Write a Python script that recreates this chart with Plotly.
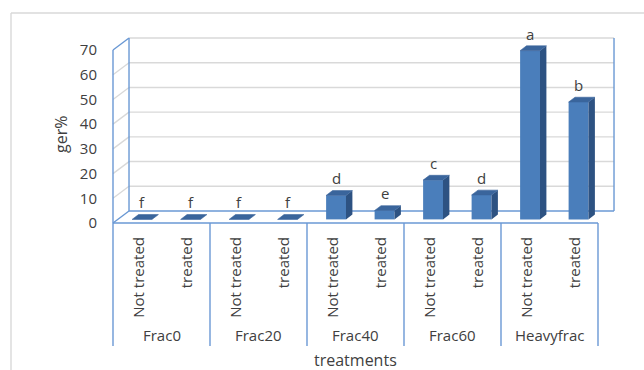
import plotly.graph_objects as go

# Germination data per fraction and treatment
groups = ["Frac0", "Frac20", "Frac40", "Frac60", "Heavyfrac"]
treatments = ["Not treated", "treated"]
ger_values = [0, 0, 0, 0, 9.7, 3.6, 15.9, 9.9, 68.3, 47.5]
letters = ["f", "f", "f", "f", "d", "e", "c", "d", "a", "b"]
y_ticks = [0, 10, 20, 30, 40, 50, 60, 70]

# oblique projection settings (x in category units, y in value units)
DX, DY = 0.33, 4.86          # full depth offset of the floor
F_DEP, B_DEP = 0.3, 0.7      # bar front/back position as fraction of depth
BAR_W = 0.41
LABEL_GAP = 6.9
Y_MAX = 70
Y_BOTTOM = -49.8

FRONT = "#4a7ebb"
TOP = "#3a659c"
SIDE = "#2d5282"
AXIS_BLUE = "#6a98d4"
GRID = "#d9d9d9"
TXT = "#404040"
FONT = "Open Sans"

n_cat = len(groups) * len(treatments)
centers = [i + 0.5 for i in range(n_cat)]

shapes = []


def seg(x0, y0, x1, y1, color, width=1.4):
    shapes.append(dict(type="line", xref="x", yref="y", x0=x0, y0=y0, x1=x1, y1=y1,
                       layer="below", line=dict(color=color, width=width)))


# back wall and side wall gridlines
for v in y_ticks[1:]:
    seg(DX, v + DY, DX + n_cat, v + DY, GRID)
    if v < Y_MAX:
        seg(0, v, DX, v + DY, GRID)

# walls, floor and category frame
seg(0, Y_BOTTOM, 0, Y_MAX, AXIS_BLUE)
seg(0, Y_MAX, DX, Y_MAX + DY, AXIS_BLUE)
seg(DX, DY, DX, Y_MAX + DY, AXIS_BLUE)
seg(DX + n_cat, DY, DX + n_cat, Y_MAX + DY, AXIS_BLUE)
seg(DX, DY, DX + n_cat, DY, AXIS_BLUE)
seg(0, 0, n_cat, 0, AXIS_BLUE)
seg(0, 0, DX, DY, AXIS_BLUE)
for g in range(1, len(groups) + 1):
    xg = g * len(treatments)
    seg(xg, 0, xg, Y_BOTTOM, AXIS_BLUE)

fig = go.Figure()

# bars: front faces
bar_x = [c + F_DEP * DX for c in centers]
fig.add_trace(go.Bar(x=bar_x, y=ger_values, base=[F_DEP * DY] * n_cat,
                     width=BAR_W, marker=dict(color=FRONT, line=dict(width=0)),
                     hoverinfo="skip", showlegend=False))

# bars: top and side faces
ddx = (B_DEP - F_DEP) * DX
ddy = (B_DEP - F_DEP) * DY
for bx, v in zip(bar_x, ger_values):
    xl, xr = bx - BAR_W / 2, bx + BAR_W / 2
    yb = F_DEP * DY
    yt = yb + v
    fig.add_trace(go.Scatter(
        x=[xr, xr, xr + ddx, xr + ddx, xr], y=[yb, yt, yt + ddy, yb + ddy, yb],
        fill="toself", fillcolor=SIDE, mode="lines", line=dict(width=0, color=SIDE),
        hoverinfo="skip", showlegend=False))
    fig.add_trace(go.Scatter(
        x=[xl, xr, xr + ddx, xl + ddx, xl], y=[yt, yt, yt + ddy, yt + ddy, yt],
        fill="toself", fillcolor=TOP, mode="lines", line=dict(width=0.6, color=TOP),
        hoverinfo="skip", showlegend=False))

annotations = []
# significance letters
for bx, v, t in zip(bar_x, ger_values, letters):
    annotations.append(dict(x=bx, y=F_DEP * DY + v + LABEL_GAP, text=t,
                            showarrow=False, font=dict(size=15, color=TXT, family=FONT)))

# category labels
for i, c in enumerate(centers):
    annotations.append(dict(x=c, y=-DY, text=treatments[i % len(treatments)],
                            textangle=-90, yanchor="top", xanchor="center", showarrow=False,
                            font=dict(size=15, color=TXT, family=FONT)))
for g, name in enumerate(groups):
    annotations.append(dict(x=g * len(treatments) + len(treatments) / 2, y=-45.3,
                            text=name, showarrow=False,
                            font=dict(size=15, color=TXT, family=FONT)))

annotations.append(dict(x=n_cat / 2, y=-55.4, text="treatments", showarrow=False,
                        yanchor="middle", font=dict(size=16, color=TXT, family=FONT)))

W, H = 644, 370
ML = 103
X0 = 113            # pixel column of the front-left edge
X_UNIT = 48.5
Y_UNIT = 2.471
ZERO_PX = 223

annotations.append(dict(xref="paper", yref="paper", x=(61 - ML) / (W - ML), y=1 - 135 / H,
                        text="ger%", textangle=-90, xanchor="center", yanchor="middle",
                        showarrow=False, font=dict(size=16, color=TXT, family=FONT)))

shapes += [
    dict(type="line", xref="paper", yref="paper",
         x0=(11 - ML) / (W - ML), x1=(11 - ML) / (W - ML), y0=0, y1=1 - 13 / H,
         line=dict(color=GRID, width=1.4)),
    dict(type="line", xref="paper", yref="paper",
         x0=(11 - ML) / (W - ML), x1=1, y0=1 - 13 / H, y1=1 - 13 / H,
         line=dict(color=GRID, width=1.4)),
]

fig.update_layout(
    width=W, height=H,
    margin=dict(l=ML, r=0, t=0, b=0, pad=0),
    paper_bgcolor="white", plot_bgcolor="white",
    barmode="overlay",
    annotations=annotations,
    shapes=shapes,
    xaxis=dict(range=[-(X0 - ML) / X_UNIT, (W - X0) / X_UNIT], visible=False,
               fixedrange=True),
    yaxis=dict(range=[-(H - ZERO_PX) / Y_UNIT, ZERO_PX / Y_UNIT],
               tickvals=y_ticks, showgrid=False, zeroline=False, showline=False,
               ticks="", ticklabelstandoff=5,
               tickfont=dict(size=15, color=TXT, family=FONT), fixedrange=True),
)

fig.write_html("out.html")
